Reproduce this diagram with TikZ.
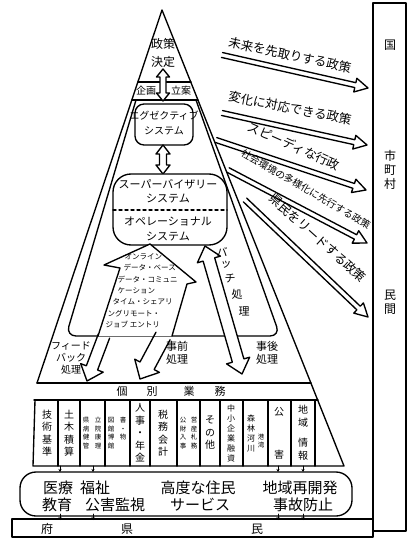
\documentclass[tikz,border=0pt]{standalone}
\usepackage{fontspec}
\newfontfamily\jp{Noto Sans CJK JP}
\usetikzlibrary{arrows.meta}
\newcommand{\harrow}[8]{%
  \pgfmathsetmacro{\myAng}{atan2(#4-#2,#3-#1)}%
  \pgfmathsetmacro{\myLen}{veclen(#3-#1,#4-#2)}%
  \pgfmathsetmacro{\myB}{\myLen-#7}%
  \begin{scope}[shift={(#1,#2)},rotate=-\myAng]
    \draw[#8] (0,-#5) -- (\myB,-#5) -- (\myB,-#6) -- (\myLen,0) -- (\myB,#6) -- (\myB,#5) -- (0,#5);
  \end{scope}}
\newcommand{\dharrow}[7]{%
  \pgfmathsetmacro{\myAng}{atan2(#4-#2,#3-#1)}%
  \pgfmathsetmacro{\myLen}{veclen(#3-#1,#4-#2)}%
  \pgfmathsetmacro{\myB}{\myLen-#7}%
  \begin{scope}[shift={(#1,#2)},rotate=-\myAng]
    \draw[fill=white] (#7,-#5) -- (\myB,-#5) -- (\myB,-#6) -- (\myLen,0) -- (\myB,#6) -- (\myB,#5) -- (#7,#5) -- (#7,#6) -- (0,0) -- (#7,-#6) -- cycle;
  \end{scope}}
\begin{document}
\begin{tikzpicture}[x=1pt,y=-1pt,line width=1.35pt,line join=round,line cap=round,
  lbl/.style={font=\jp\fontsize{11}{12.5}\selectfont,inner sep=0pt,align=center},
  col/.style={font=\jp\fontsize{10}{12.5}\selectfont,inner sep=0pt,align=center},
  scol/.style={font=\jp\fontsize{6.5}{8.5}\selectfont,inner sep=0pt,align=center},
  big/.style={font=\jp\fontsize{15}{17}\selectfont,inner sep=0pt},
  arr/.style={font=\jp\fontsize{12.5}{14}\selectfont,inner sep=0pt}]
\useasboundingbox (0,0) rectangle (409,545);
\fill[white] (0,0) rectangle (409,545);
% right box
\draw (373,3) rectangle (406,531);
\node[lbl,font=\jp\fontsize{12}{14}\selectfont] (kuni) at (390,45) {国};
\node[lbl,font=\jp\fontsize{12}{14}\selectfont] (shi) at (390,170) {市\\町\\村};
\node[lbl,font=\jp\fontsize{12}{14}\selectfont] (min) at (390,302) {民\\間};
% bottom bar
\draw (12,519) rectangle (373,537);
\node[lbl,font=\jp\fontsize{12}{14}\selectfont] (fu) at (47,529) {府};
\node[lbl,font=\jp\fontsize{12}{14}\selectfont] (ken) at (127,529) {県};
\node[lbl,font=\jp\fontsize{12}{14}\selectfont] (min2) at (257,529) {民};
% service box
\draw[rounded corners=16] (20,472) rectangle (352,516);
\node[big] (s1) at (58,488) {医療};
\node[big] (s2) at (95,488) {福祉};
\node[big] (s3) at (198,488) {高度な住民};
\node[big] (s4) at (300,488) {地域再開発};
\node[big] (s5) at (57,505) {教育};
\node[big] (s6) at (115,505) {公害監視};
\node[big] (s7) at (200,505) {サービス};
\node[big] (s8) at (303,505) {事故防止};
% ticks
\foreach \xx in {60,93,278,303}{
  \draw[line width=0.8pt,-{Stealth[length=3pt,width=3pt]}] (\xx,466) -- (\xx,472);
  \draw[line width=0.8pt,-{Stealth[length=3pt,width=3pt]}] (\xx,514) -- (\xx,520);
}
% pyramid
\draw (37,383) -- (162,10) -- (344,466) -- (33,466) -- (35,400);
\draw (37,383) -- (311,383);
\draw (34,400) -- (318,400);
\foreach \xx in {58,80,105,130,150,177,200,220,243,268,291,315}{\draw (\xx,400) -- (\xx,466);}
\node[lbl] (k1) at (122,391) {個};
\node[lbl] (k2) at (152,391) {別};
\node[lbl] (k3) at (189,391) {業};
\node[lbl] (k4) at (220,391) {務};
% columns
\node[col] (c1) at (47,433) {技\\術\\基\\準};
\node[col] (c2) at (69,433) {土\\木\\積\\算};
\node[scol] (c3a) at (86,433) {県\\病\\健\\管};
\node[scol] (c3b) at (98,433) {立\\院\\康\\理};
\node[scol] (c4a) at (111,433) {図\\館\\博\\館};
\node[scol] (c4b) at (123,433) {書\\・\\物\\};
\node[col] (c5) at (140,433) {人\\事\\・\\年\\金};
\node[col] (c6) at (163,433) {税\\務\\会\\計};
\node[scol] (c7a) at (183,433) {公\\財\\入\\事};
\node[scol] (c7b) at (194,433) {営\\産\\札\\務};
\node[col] (c8) at (210,433) {そ\\の\\他};
\node[scol,font=\jp\fontsize{8}{10}\selectfont] (c9) at (231,433) {中\\小\\企\\業\\融\\資};
\node[scol,font=\jp\fontsize{8}{10}\selectfont] (c10a) at (251,433) {森\\林\\河\\川};
\node[scol] (c10b) at (261,441) {港\\湾};
\node[col] (c11a) at (279,412) {公};
\node[col] (c11b) at (279,455) {害};
\node[col] (c12a) at (303,416) {地\\域};
\node[col] (c12b) at (303,449) {情\\報};
% apex
\draw (138,82) -- (191,82);
\draw (132,100) -- (198,100);
\node[lbl,font=\jp\fontsize{12}{14}\selectfont] (seisaku) at (163,44) {政策};
\node[lbl,font=\jp\fontsize{12}{14}\selectfont] (kettei) at (163,62) {決定};
\node[lbl,font=\jp\fontsize{10}{12}\selectfont] (kikaku) at (146,91) {企画};
\node[lbl,font=\jp\fontsize{10}{12}\selectfont] (ritsuan) at (181,91) {立案};
% inner shape
\draw[rounded corners=10] (136,100) -- (66,336) -- (280,336) -- (196,100);
% exec box
\draw[rounded corners=9,fill=white] (135,104) rectangle (193,145);
\node[lbl,font=\jp\fontsize{10}{12}\selectfont] (ex1) at (164,116) {エグゼクティブ};
\node[lbl,font=\jp\fontsize{10}{12}\selectfont] (ex2) at (164,131) {システム};
\dharrow{163}{69}{163}{101}{3}{6.5}{8}
\dharrow{163}{145}{163}{174}{3.5}{7}{9}
% super / op box
\draw[rounded corners=18,fill=white] (113,174) rectangle (227,245);
\draw[dashed] (113,210) -- (227,210);
\node[lbl] (sv1) at (168,184) {スーパーバイザリー};
\node[lbl] (sv2) at (168,199) {システム};
\node[lbl] (op1) at (168,222) {オペレーショナル};
\node[lbl] (op2) at (168,237) {システム};
% online arrow
\draw[fill=white] (98,336) -- (120,268) -- (104,265) -- (150,244) -- (196,282) -- (187,284) -- (172,336);
\node[lbl,font=\jp\fontsize{7.5}{11.3}\selectfont,align=left,anchor=north west] (onl) at (105,253)
  {\hspace*{19pt}オンライン\\\hspace*{18pt}データ・ベース\\\hspace*{12pt}データ・コミュニ\\\hspace*{12pt}ケーション\\\hspace*{7pt}タイム・シェアリ\\\hspace*{2pt}ングリモート・\\ジョブ エントリ};
\harrow{104}{336}{87}{381}{6}{12}{14}{}
\harrow{163}{336}{140}{379}{8}{14}{15}{}
\dharrow{205}{246}{242}{374}{6}{12}{14}
\node[lbl,font=\jp\fontsize{10}{12}\selectfont] (fb) at (71,358) {フィード\\バック\\処理};
\node[lbl] (jizen) at (177,353) {事前\\処理};
\node[lbl] (jigo) at (267,353) {事後\\処理};
\node[lbl] (b1) at (222,252) {バ};
\node[lbl] (b2) at (226,265) {ッ};
\node[lbl] (b3) at (230,278) {チ};
\node[lbl] (b4) at (237,294) {処};
\node[lbl] (b5) at (244,311) {理};
% right arrows
\harrow{222}{55}{368}{88}{2.5}{7}{13}{}
\harrow{222}{113}{367}{145}{2.5}{7}{13}{}
\harrow{216}{140}{366}{190}{2.5}{7}{13}{}
\harrow{228}{170}{367}{243}{2.5}{7}{13}{}
\harrow{245}{200}{368}{317}{2.5}{7}{13}{}
\node[arr,rotate=-12] (r1) at (290,55) {未来を先取りする政策};
\node[arr,rotate=-11] (r2) at (290,108) {変化に対応できる政策};
\node[arr,rotate=-24] (r3) at (294,146) {スピーディな行政};
\node[arr,font=\jp\fontsize{9.8}{11}\selectfont,rotate=-30] (r4) at (306,189) {社会環境の多様化に先行する政策};
\node[arr,rotate=-42] (r5) at (318,238) {県民をリードする政策};
\end{tikzpicture}
\end{document}
